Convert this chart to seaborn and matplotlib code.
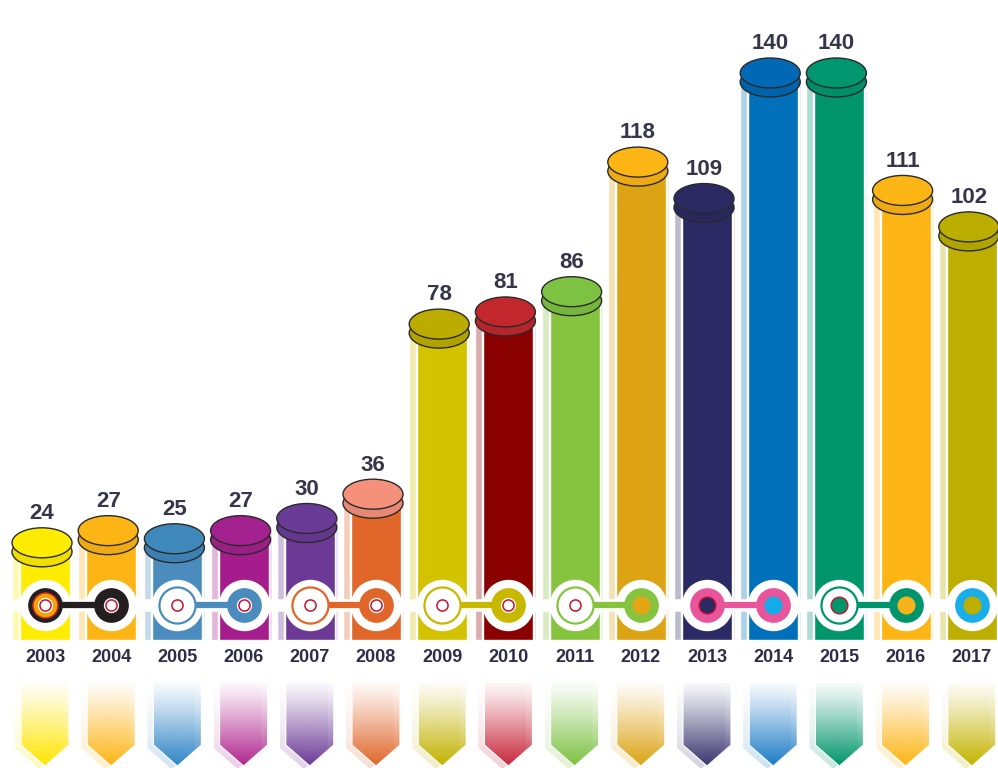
import numpy as np
import matplotlib
matplotlib.use("Agg")
import matplotlib.pyplot as plt
import matplotlib.colors as mcolors
from matplotlib.patches import Ellipse, Polygon
import seaborn as sns

years = [str(y) for y in range(2003, 2018)]
counts = [24, 27, 25, 27, 30, 36, 78, 81, 86, 118, 109, 140, 140, 111, 102]

body_colors = ["#FFEC00", "#FDB515", "#4A8CBE", "#A51D8C", "#6C3A96",
               "#E0662A", "#D3C200", "#8A0000", "#86C440", "#DCA414",
               "#2C2A64", "#0070BA", "#00956B", "#FDB515", "#BDAE00"]
cap_colors = ["#FFEC00", "#FDB515", "#3F88BC", "#A3218E", "#6A3A97",
              "#F5917A", "#BCAC00", "#C1272D", "#7DC242", "#FDB515",
              "#2B2A63", "#0068B5", "#009670", "#FDB515", "#BBAE00"]
arrow_colors = ["#FFE600", "#FDB515", "#2F85C6", "#B0278F", "#6C3A96",
                "#E0662A", "#C2B200", "#C8283C", "#7DC242", "#DCA414",
                "#3A3770", "#1C7CC6", "#00956B", "#FDB515", "#C4B400"]

# timeline hubs
ring_colors = ["#231F20", "#231F20", "#4A8CBE", "#4A8CBE", "#E0662A",
               "#E0662A", "#C9B800", "#C9B800", "#86C440", "#86C440",
               "#E8559A", "#E8559A", "#00956B", "#00956B", "#1AAEE8"]
ring_styles = ["thick", "thick", "thin", "thick", "thin", "thick", "thin",
               "thick", "thin", "thick", "thick", "thick", "thin", "thick",
               "thick"]
hub_colors = [None, None, None, None, None, None, None, None, None,
              "#E5A614", "#2C2A64", "#14ACE8", "#00956B", "#F5B21A", "#BDAE00"]
links = [(0, 1), (2, 3), (4, 5), (6, 7), (8, 9), (10, 11), (12, 13)]

PX_X = 66.2   # pixels per category
PX_Y = 4.05   # pixels per unit
SH = 3 / PX_X  # caps/labels sit a little left of the body centre


def tint(c, f):
    r = np.array(mcolors.to_rgb(c))
    return tuple(r + (1 - r) * f)


def shade(c, f):
    return tuple(np.array(mcolors.to_rgb(c)) * (1 - f))


sns.set_style("white")
plt.rcParams["font.family"] = ["Liberation Sans", "DejaVu Sans"]

fig = plt.figure(figsize=(9.98, 7.68), dpi=100)
ax = fig.add_axes([0, 0, 1, 1])

idx = np.arange(len(years))
cx = idx - SH

# light strips beside each column
ax.bar(idx - 33 / PX_X, counts, width=7 / PX_X, align="edge",
       color=[tint(c, 0.68) for c in body_colors], zorder=1)
ax.bar(idx + 25.5 / PX_X, counts, width=2.5 / PX_X, align="edge",
       color=[tint(c, 0.82) for c in body_colors], zorder=1)

sns.barplot(x=years, y=counts, hue=years, palette=body_colors,
            width=50 / PX_X, saturation=1, legend=False, ax=ax, zorder=2)

cap_w = 60 / PX_X
cap_h = 30 / PX_Y
for i, v in enumerate(counts):
    ax.add_patch(Ellipse((cx[i], v - 9 / PX_Y), cap_w, cap_h,
                         facecolor=shade(cap_colors[i], 0.06),
                         edgecolor="#2a2a2a", lw=1.0, zorder=3))
    ax.add_patch(Ellipse((cx[i], v), cap_w, cap_h, facecolor=cap_colors[i],
                         edgecolor="#2a2a2a", lw=1.0, zorder=4))
    ax.annotate(str(v), (cx[i], v), xytext=(0, 21),
                textcoords="offset points", ha="center", va="center",
                fontsize=16, fontweight="bold", color="#35364A", zorder=5)

# timeline
y_tl = 35 / PX_Y
ax.axhline(y_tl, color="white", lw=9, zorder=5)
ax.scatter(idx, [y_tl] * len(idx), s=37 ** 2, color="white", lw=0, zorder=6)
for a, b in links:
    ax.plot([a, b], [y_tl, y_tl], color=ring_colors[a], lw=4.5,
            solid_capstyle="butt", zorder=7)

for i in idx:
    rc = ring_colors[i]
    if ring_styles[i] == "thin":
        ax.scatter(i, y_tl, s=26 ** 2, facecolor="white", edgecolor=rc,
                   lw=1.6, zorder=8)
    else:
        ax.scatter(i, y_tl, s=25 ** 2, color=rc, lw=0, zorder=8)
        if i == 0:
            ax.scatter(i, y_tl, s=18 ** 2, color="#F5A300",
                       edgecolor="#D8261C", lw=1.0, zorder=8.5)
        ax.scatter(i, y_tl, s=11 ** 2, color="white", lw=0, zorder=9)
    if hub_colors[i] is None:
        ax.scatter(i, y_tl, s=8 ** 2, facecolor="white", edgecolor="#C8102E",
                   lw=1.1, zorder=10)
    else:
        edge = "#C8102E" if ring_styles[i] == "thin" or i == 10 else hub_colors[i]
        ax.scatter(i, y_tl, s=12 ** 2, color=hub_colors[i], edgecolor=edge,
                   lw=1.0, zorder=10)

# year labels
for i, yr in enumerate(years):
    ax.text(i, -17 / PX_Y, yr, ha="center", va="center", fontsize=13,
            fontweight="bold", color="#2D2D4A", zorder=10)

# fading arrows
top, shoulder, tip = -43 / PX_Y, -105 / PX_Y, -126 / PX_Y
hw = 24 / PX_X
ramp = 0.04 + 0.96 * np.linspace(0, 1, 120) ** 1.25
for i, c in enumerate(arrow_colors):
    for dx, dy, f, amax, z in [(-6 / PX_X, -3 / PX_Y, 0.55, 0.5, 11),
                               (0, 0, 0.0, 1.0, 12)]:
        ax_ = i + dx
        pts = [(ax_ - hw, top + dy), (ax_ + hw, top + dy),
               (ax_ + hw, shoulder + dy), (ax_, tip + dy),
               (ax_ - hw, shoulder + dy)]
        poly = Polygon(pts, closed=True, transform=ax.transData)
        rgba = np.zeros((120, 1, 4))
        rgba[..., :3] = tint(c, f)
        rgba[:, 0, 3] = ramp * amax
        im = ax.imshow(rgba, extent=(ax_ - hw, ax_ + hw, tip + dy, top + dy),
                       origin="upper", aspect="auto", zorder=z,
                       interpolation="bilinear")
        im.set_clip_path(poly)
    ax.add_patch(Polygon([(i - hw, top), (i - hw, shoulder), (i, tip),
                          (i + hw, shoulder), (i + hw, top)], closed=False,
                         fill=False, edgecolor="white", lw=0.8, zorder=12.5))

ax.set_xlim(-45 / PX_X, (998 - 45) / PX_X)
ax.set_ylim(-(768 - 640) / PX_Y, 640 / PX_Y)
ax.set_aspect("auto")
ax.axis("off")

fig.savefig("out.png", dpi=100)
